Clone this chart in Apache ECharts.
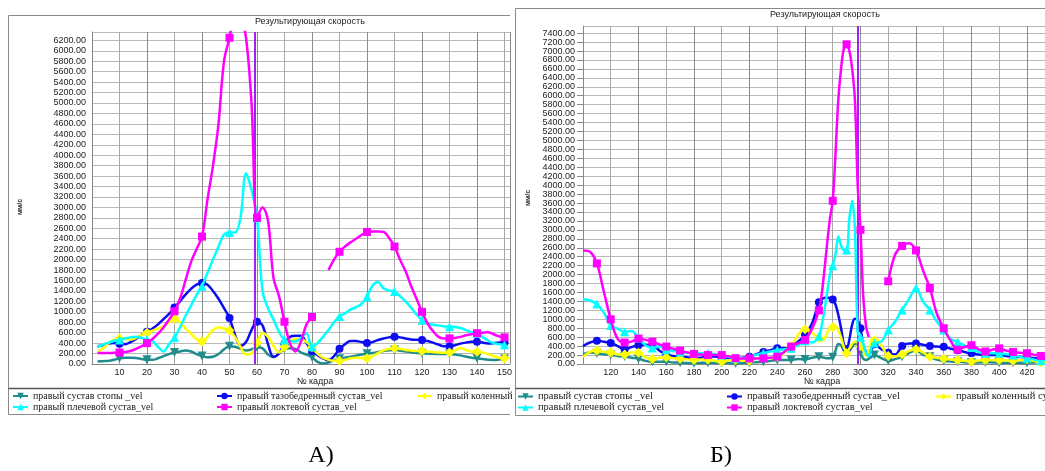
<!DOCTYPE html>
<html><head><meta charset="utf-8">
<script src="https://cdn.jsdelivr.net/npm/echarts/dist/echarts.min.js"></script>
<style>html,body{margin:0;padding:0;background:#fff}#c{width:1045px;height:471px}</style>
</head><body><div id="c"></div>
<script>
// ---------- DATA ----------
const seriesNames = ['правый сустав стопы _vel','правый тазобедренный сустав_vel','правый коленный сустав_vel','правый плечевой сустав_vel','правый локтевой сустав_vel'];
const croppedLegendText = 'правый коленный';
const chartTitle = 'Результирующая скорость';
const xName = '№ кадра';
const yName = 'мм/с';
const panelLabels = ['А)', 'Б)'];
const cursorA = 59;
const cursorB = 298;

// Chart A (left)
const framesA = [2,4,6,8,10,12,14,16,18,20,22,24,26,28,30,32,34,36,38,40,42,44,46,48,50,52,54,56,58,60,62,64,66,68,70,72,74,76,78,80,82,84,86,88,90,92,94,96,98,100,102,104,106,108,110,112,114,116,118,120,122,124,126,128,130,132,134,136,138,140,142,144,146,148,150];
const footA = [50,55,60,80,110, 120,120,115,95,80, 80,110,150,190,220, 240,260,240,190,155, 130,140,190,280,340, 330,290,260,280,320, 300,180,130,200,290, 300,290,220,180,130, 40,10,30,70,100, 120,140,160,180,195, 210,230,250,265,270, 255,240,225,210,205, 200,195,190,190,190, 180,165,140,120,110, 95,80,78,85,95];
const hipA = [340,360,390,400,390, 380,420,480,560,620, 680,760,860,960,1080, 1200,1330,1440,1520,1550, 1520,1400,1250,1070,880, 560,350,420,650,810, 740,380,140,200,390, 520,540,540,400,250, 170,110,70,150,290, 380,440,440,420,400, 420,460,490,510,520, 510,490,470,465,460, 440,410,370,340,340, 360,390,410,425,425, 410,395,400,410,410];
const kneeA = [230,300,400,460,490, 480,470,500,560,600, 640,680,720,800,870, 800,680,580,480,430, 520,650,700,680,640, 520,330,180,200,400, 600,520,350,220,330, 440,480,480,420,320, 200,120,80,60,60, 80,110,120,115,110, 150,210,260,290,300, 290,270,260,250,250, 240,230,220,215,220, 260,300,270,240,235, 220,190,150,120,110];
const shoulderA = [330,370,410,440,460, 490,510,520,500,470, 440,330,240,380,510, 700,920,1120,1320,1490, 1750,2000,2250,2480,2520, 2520,2800,3650,3340,2800, 1400,1070,850,620,460, 440,430,500,590,330, 400,520,650,800,910, 970,1040,1090,1150,1290, 1500,1570,1450,1410,1390, 1300,1200,1080,950,840, 780,750,740,720,715, 710,690,650,610,590, 520,450,400,380,370];
const elbowA = [210,210,210,215,220, 230,250,290,340,400, 480,580,700,850,1010, 1250,1600,1950,2200,2440, 3150,3800,4600,5800,6250, 6700,6650,6250,5000,2800, 3000,2750,1650,1300,810, 390,240,430,760,900, null,null,1800,2000,2150, 2250,2330,2400,2470,2530, 2540,2540,2530,2420,2250, 2000,1780,1500,1250,1000, 780,630,520,490,490, 500,520,550,570,590, 600,610,570,530,510];

// Chart B (right)
const framesB = [100,105,110,115,120,125,130,135,140,145, 150,155,160,165,170,175,180,185,190,195, 200,205,210,215,220,225,230,235,240,245, 250,255,260,265, 270,272,274,276,278,280,282,284,286,288,290,292,294,296,298,300,302,304,306,308,310, 315,320,325,330,335,340,345,350,355,360,365,370,375,380,385,390,395,400,405,410,415,420,425,430, 433];
const footB = [220,260,240,220,200,180,165,140,120,70, 50,50,50,35,30,20,15,25,30,30, 30,20,15,25,30,40,50,70,90,90, 90,110,100,140, 160,150,140,130,130,150,300,450,420,300,240,300,380,460,400,250,120,90,120,160,200, 130,70,110,160,250,310,210,160,100,70,55,50,40,30,35,40,35,30,30,30,30,30,35,40, 40];
const hipB = [400,480,520,500,470,400,330,380,420,430, 420,300,210,180,165,150,130,140,160,165, 150,130,125,140,160,220,270,310,350,350, 380,500,650,900, 1380,1450,1480,1490,1470,1440,1330,1100,800,450,330,550,880,1010,980,800,420,280,240,330,440, 330,250,210,400,460,460,430,400,390,385,340,310,270,240,210,200,200,200,180,165,155,150,135,127, 125];
const kneeB = [160,270,300,270,260,210,215,260,250,150, 110,140,150,130,120,100,90,100,100,70, 55,80,90,80,75,120,150,130,160,250, 390,650,780,700, 580,520,560,700,790,820,850,760,600,380,240,350,450,500,480,400,300,180,300,520,530, 420,180,170,220,290,330,260,160,140,125,100,90,70,55,80,90,90,90,80,75,90,105,70,40, 40];
const shoulderB = [1450,1420,1340,1150,860,790,720,740,580,420, 360,390,320,290,270,250,240,240,240,220, 200,160,130,130,150,210,240,280,310,330, 350,420,520,480, 620,850,1200,1600,2000,2200,2450,2850,2650,2550,2550,3250,3650,3000,700,600,450,250,180,380,470, 500,760,950,1210,1450,1700,1400,1210,950,760,560,500,410,370,270,240,240,240,220,200,160,127,100,75, 70];
const elbowB = [2540,2510,2250,1620,1000,560,480,500,570,540, 500,440,390,340,300,260,225,210,200,200, 200,170,130,125,125,125,127,140,165,270, 390,460,540,780, 1200,1550,2100,2700,3250,3650,4700,5900,6600,7050,7150,7000,6600,5900,4000,3000,1500,850,600,null,null, null,1850,2450,2640,2700,2540,2100,1700,1130,800,520,320,380,420,330,280,320,350,300,270,250,240,210,180, 170];

// ---------- STYLE ----------
const colors = ['#208c8c','#0c0cf0','#ffff00','#00ffff','#ff00ff'];
const symbols = ['path://M0,0 L10,0 L5,9 Z','circle','diamond','triangle','rect'];
const symSizes = [9,8,10,9,8];
const cursorColor = '#a020f0';

const chartA = {frames: framesA, vals: [footA, hipA, kneeA, shoulderA, elbowA], xMin: 0, xMax: 152, xInt: 10, yMax: 6360, cursor: cursorA};
const chartB = {frames: framesB, vals: [footB, hipB, kneeB, shoulderB, elbowB], xMin: 100, xMax: 433, xInt: 20, yMax: 7560, cursor: cursorB};

function build(frames, vals, xMin) {
  return frames.map((f, i) => {
    const v = vals[i];
    const item = {value: [f, v === null ? '-' : v]};
    if (!(f % 10 === 0 && f > xMin)) item.symbol = 'none';
    return item;
  });
}

const fmt = v => Number(v).toFixed(2);
const grids = [
  {left: 92, top: 32, width: 418, height: 332},
  {left: 583, top: 26, width: 462, height: 338}
];
const charts = [chartA, chartB];

const xAxes = charts.map((c, k) => ({
  type: 'value', gridIndex: k, min: c.xMin, max: c.xMax, interval: c.xInt,
  axisLine: {show: true, lineStyle: {color: '#888', width: 1}},
  axisTick: {show: false},
  axisLabel: {showMinLabel: false, showMaxLabel: false, margin: 4, fontSize: 9, fontFamily: 'Liberation Sans', color: '#222'},
  splitLine: {show: true, lineStyle: {color: ['#8c8c8c', '#a8a8a8'], width: 1}}
}));
const yAxes = charts.map((c, k) => ({
  type: 'value', gridIndex: k, min: 0, max: c.yMax, interval: 200,
  axisLine: {show: true, lineStyle: {color: '#888', width: 1}},
  axisTick: {show: k === 1, length: 6, lineStyle: {color: '#888'}},
  axisLabel: {showMaxLabel: false, formatter: fmt, margin: k === 1 ? 8 : 6, fontSize: 9, fontFamily: 'Liberation Sans', color: '#222'},
  splitLine: {show: true, lineStyle: {color: '#b8b8b8', width: 1}}
}));

const series = [];
charts.forEach((c, k) => {
  seriesNames.forEach((name, j) => {
    const s = {
      type: 'line', name: name, xAxisIndex: k, yAxisIndex: k,
      data: build(c.frames, c.vals[j], c.xMin),
      smooth: 0.35, connectNulls: false,
      symbol: symbols[j], symbolSize: symSizes[j],
      lineStyle: {width: 2.5, color: colors[j]},
      itemStyle: {color: colors[j]},
      z: 2 + j, animation: false
    };
    if (j === 4) {
      s.markLine = {
        silent: true, symbol: ['none', 'none'], label: {show: false},
        lineStyle: {color: cursorColor, width: 2, type: 'solid'},
        data: [{xAxis: c.cursor}], animation: false
      };
    }
    series.push(s);
  });
});

const legendPos = [
  [[12,391],[216,391],[416,391],[12,402],[216,402]],
  [[517,391],[726,391],[935,391],[517,402],[726,402]]
];
const legends = [];
legendPos.forEach((arr, k) => {
  arr.forEach((p, j) => {
    const lg = {data: [seriesNames[j]], left: p[0], top: p[1], padding: 0, itemWidth: 15, itemHeight: 8, itemGap: 4, selectedMode: false,
      textStyle: {fontFamily: 'Liberation Serif', fontSize: k === 0 ? 10 : 10.5, color: '#222'}};
    if (k === 0 && j === 2) lg.formatter = () => croppedLegendText;
    legends.push(lg);
  });
});

const border = '#8a8a8a';
const graphic = [
  {type: 'polyline', shape: {points: [[510,15.5],[8.5,15.5],[8.5,414.5],[510,414.5]]}, style: {stroke: border, fill: null, lineWidth: 1}},
  {type: 'line', shape: {x1: 8.5, y1: 388.5, x2: 510, y2: 388.5}, style: {stroke: '#555', lineWidth: 1.5}},
  {type: 'polyline', shape: {points: [[1045,8.5],[515.5,8.5],[515.5,415.5],[1045,415.5]]}, style: {stroke: border, fill: null, lineWidth: 1}},
  {type: 'line', shape: {x1: 515.5, y1: 388.5, x2: 1045, y2: 388.5}, style: {stroke: '#555', lineWidth: 1.5}},
  {type: 'text', left: 255, top: 17, style: {text: chartTitle, font: '9px "Liberation Sans"', fill: '#222'}},
  {type: 'text', left: 770, top: 10, style: {text: chartTitle, font: '9px "Liberation Sans"', fill: '#222'}},
  {type: 'text', x: 315, y: 382, style: {text: xName, font: '9px "Liberation Sans"', fill: '#222', align: 'center', verticalAlign: 'middle'}},
  {type: 'text', x: 822, y: 382, style: {text: xName, font: '9px "Liberation Sans"', fill: '#222', align: 'center', verticalAlign: 'middle'}},
  {type: 'text', x: 20, y: 207, rotation: Math.PI / 2, style: {text: yName, font: 'bold 7px "Liberation Sans"', fill: '#333', align: 'center', verticalAlign: 'middle'}},
  {type: 'text', x: 528, y: 198, rotation: Math.PI / 2, style: {text: yName, font: 'bold 7px "Liberation Sans"', fill: '#333', align: 'center', verticalAlign: 'middle'}},
  {type: 'text', x: 321, y: 456, style: {text: panelLabels[0], font: '24px "Liberation Serif"', fill: '#000', align: 'center', verticalAlign: 'middle'}},
  {type: 'text', x: 721, y: 456, style: {text: panelLabels[1], font: '24px "Liberation Serif"', fill: '#000', align: 'center', verticalAlign: 'middle'}}
];

const chart = echarts.init(document.getElementById('c'), null, {renderer: 'canvas'});
chart.setOption({
  backgroundColor: '#fff',
  animation: false,
  grid: grids,
  xAxis: xAxes,
  yAxis: yAxes,
  legend: legends,
  series: series,
  graphic: graphic
});
</script></body></html>
